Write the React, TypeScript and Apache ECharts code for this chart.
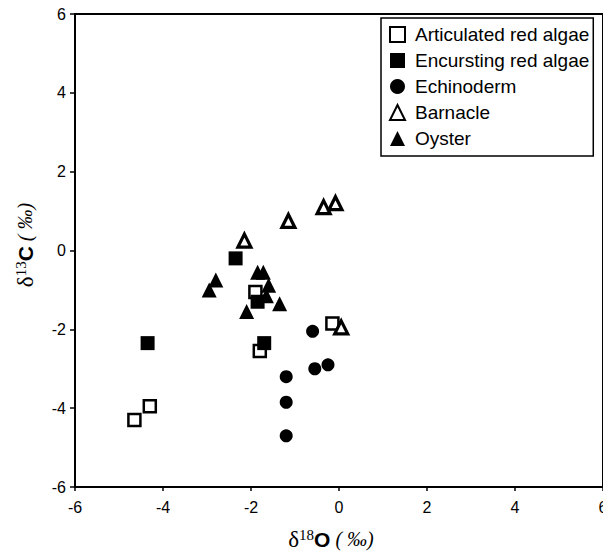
import React, { useEffect, useRef } from "react";
import * as echarts from "echarts";

const xTicks = [-6, -4, -2, 0, 2, 4, 6];
const yTicks = [-6, -4, -2, 0, 2, 4, 6];

const seriesNames = [
  "Articulated red algae",
  "Encursting red algae",
  "Echinoderm",
  "Barnacle",
  "Oyster",
];

const xTitle = "{d|δ}{s|18}{o|O}{p| ( ‰)}";
const yTitle = "{d|δ}{s|13}{o|C}{p| ( ‰)}";

const articulatedRedAlgae: [number, number][] = [
  [-4.65, -4.3],
  [-4.3, -3.95],
  [-1.9, -1.05],
  [-1.8, -2.55],
  [-0.15, -1.85],
];
const encrustingRedAlgae: [number, number][] = [
  [-4.35, -2.35],
  [-2.35, -0.2],
  [-1.85, -1.3],
  [-1.7, -2.35],
];
const echinoderm: [number, number][] = [
  [-1.2, -3.2],
  [-1.2, -3.85],
  [-1.2, -4.7],
  [-0.6, -2.05],
  [-0.55, -3.0],
  [-0.25, -2.9],
];
const barnacle: [number, number][] = [
  [-2.15, 0.25],
  [-1.15, 0.75],
  [-0.35, 1.1],
  [-0.08, 1.2],
  [0.05, -1.95],
];
const oyster: [number, number][] = [
  [-2.8, -0.75],
  [-2.95, -1.0],
  [-1.85, -0.55],
  [-1.72, -0.55],
  [-1.6, -0.88],
  [-1.65, -1.15],
  [-1.35, -1.35],
  [-2.1, -1.55],
];

const serif = "Liberation Serif, Times New Roman, serif";
const sans = "Liberation Sans, Arial, sans-serif";

function titleRich() {
  return {
    d: { fontFamily: serif, fontSize: 23, fill: "#000", color: "#000" },
    s: { fontFamily: serif, fontSize: 15, fill: "#000", color: "#000", verticalAlign: "bottom", padding: [0, 0, 9, 0] },
    o: { fontFamily: sans, fontSize: 21, fontWeight: "bold", fill: "#000", color: "#000" },
    p: { fontFamily: serif, fontSize: 20, fontStyle: "italic", fill: "#000", color: "#000" },
  };
}

export default function App() {
  const ref = useRef<HTMLDivElement>(null);
  useEffect(() => {
    if (!ref.current) return;
    const chart = echarts.init(ref.current, null, { renderer: "svg" });
    const open = { color: "#fff", borderColor: "#000", borderWidth: 2.5, opacity: 1 };
    const openTri = { color: "#fff", borderColor: "#000", borderWidth: 3.2, opacity: 1 };
    const filled = { color: "#000", borderColor: "#000", borderWidth: 0, opacity: 1 };
    chart.setOption({
      animation: false,
      backgroundColor: "#fff",
      grid: {
        left: 75,
        right: 8,
        top: 14,
        bottom: 73,
        show: true,
        borderColor: "#000",
        borderWidth: 2,
      },
      legend: {
        orient: "vertical",
        left: 381,
        top: 18,
        padding: [7, 4, 8, 8],
        itemGap: 7,
        itemWidth: 15,
        itemHeight: 15,
        borderColor: "#000",
        borderWidth: 1.5,
        backgroundColor: "#fff",
        textStyle: {
          fontFamily: sans,
          fontSize: 19,
          lineHeight: 19,
          color: "#000",
          padding: [0, 0, 0, 5],
        },
        data: seriesNames,
      },
      graphic: [
        {
          type: "text",
          x: 331,
          y: 539,
          style: { text: xTitle, rich: titleRich(), align: "center", verticalAlign: "middle" },
        },
        {
          type: "text",
          x: 25,
          y: 245,
          rotation: Math.PI / 2,
          style: { text: yTitle, rich: titleRich(), align: "center", verticalAlign: "middle" },
        },
      ],
      xAxis: {
        type: "value",
        min: -6,
        max: 6,
        interval: 2,
        splitLine: { show: false },
        axisLine: { show: true, onZero: false, lineStyle: { color: "#000", width: 2 } },
        axisTick: { show: true, length: 4, lineStyle: { color: "#000", width: 1.5 } },
        axisLabel: {
          color: "#000",
          fontSize: 16,
          fontFamily: sans,
          margin: 12,
          formatter: (v: number) => (xTicks.includes(v) ? String(v) : ""),
        },
      },
      yAxis: {
        type: "value",
        min: -6,
        max: 6,
        interval: 2,
        splitLine: { show: false },
        axisLine: { show: true, onZero: false, lineStyle: { color: "#000", width: 2 } },
        axisTick: { show: true, length: 5, inside: false, lineStyle: { color: "#000", width: 1.5 } },
        axisLabel: {
          color: "#000",
          fontSize: 16,
          fontFamily: sans,
          margin: 9,
          formatter: (v: number) => (yTicks.includes(v) ? String(v) : ""),
        },
      },
      series: [
        { name: seriesNames[0], type: "scatter", symbol: "rect", symbolSize: 12, itemStyle: open, data: articulatedRedAlgae },
        { name: seriesNames[1], type: "scatter", symbol: "rect", symbolSize: 14, itemStyle: filled, data: encrustingRedAlgae },
        { name: seriesNames[2], type: "scatter", symbol: "circle", symbolSize: 13, itemStyle: filled, data: echinoderm },
        { name: seriesNames[3], type: "scatter", symbol: "triangle", symbolSize: 13, itemStyle: openTri, data: barnacle },
        { name: seriesNames[4], type: "scatter", symbol: "triangle", symbolSize: 15, itemStyle: filled, data: oyster },
      ],
    });
    return () => chart.dispose();
  }, []);
  return <div ref={ref} style={{ width: 611, height: 560, margin: -8 }} />;
}
